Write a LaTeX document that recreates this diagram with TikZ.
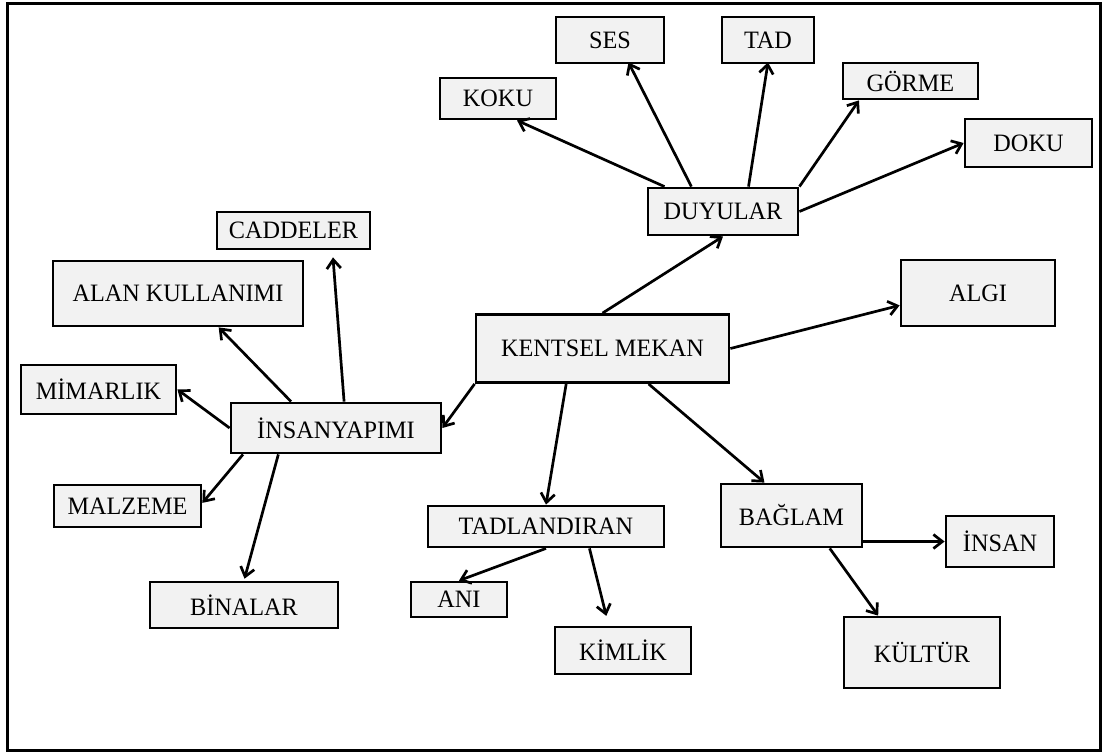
\documentclass[tikz,border=0pt]{standalone}
\usepackage{fontspec}
\setmainfont[FakeStretch=0.97]{Liberation Serif}
\usetikzlibrary{arrows.meta,calc}
\definecolor{boxfill}{HTML}{F2F2F2}
\begin{document}
\begin{tikzpicture}[x=1pt,y=-1pt,
  box/.style={draw=black, line width=2.8pt, fill=boxfill, inner sep=0pt,
              font=\fontsize{25}{29}\selectfont},
  arr/.style={line width=2.7pt, -{Straight Barb[length=9pt,width=14pt]}}]
\useasboundingbox (0,0) rectangle (1103,753);
\draw[line width=3pt] (7,3) rectangle (1100,750);

% senses cluster
\node[box, minimum width=116pt, minimum height=41pt] (koku)  at (498,98.5)   {KOKU};
\node[box, minimum width=108pt, minimum height=46pt] (ses)   at (610,40)     {SES};
\node[box, minimum width=92pt,  minimum height=46pt] (tad)   at (768,40)     {TAD};
\node[box, minimum width=135pt, minimum height=36pt] (gorme) at (910.5,81)   {GÖRME};
\node[box, minimum width=127pt, minimum height=48pt] (doku)  at (1028.5,143) {DOKU};
\node[box, minimum width=150pt, minimum height=47pt] (duy)   at (723,211.5)  {DUYULAR};

% centre and right
\node[box, minimum width=253pt, minimum height=68pt] (kent)  at (602.5,348.5) {KENTSEL MEKAN};
\node[box, minimum width=154pt, minimum height=66pt] (algi)  at (978,293)     {ALGI};

% man-made cluster
\node[box, minimum width=153pt, minimum height=37pt] (cad)   at (293.5,230.5) {CADDELER};
\node[box, minimum width=250pt, minimum height=65pt] (alan)  at (178,293.5)   {ALAN KULLANIMI};
\node[box, minimum width=155pt, minimum height=49pt] (mim)   at (98.5,389.5)  {MİMARLIK};
\node[box, minimum width=210pt, minimum height=50pt] (insy)  at (336,428)     {İNSANYAPIMI};
\node[box, minimum width=147pt, minimum height=42pt] (malz)  at (127.5,506)   {MALZEME};
\node[box, minimum width=188pt, minimum height=46pt] (bin)   at (244,605)     {BİNALAR};

% lower clusters
\node[box, minimum width=236pt, minimum height=41pt] (tadl)  at (546,526.5)   {TADLANDIRAN};
\node[box, minimum width=96pt,  minimum height=35pt] (ani)   at (459,599.5)   {ANI};
\node[box, minimum width=136pt, minimum height=47pt] (kim)   at (623,650.5)   {KİMLİK};
\node[box, minimum width=141pt, minimum height=63pt] (bag)   at (791.5,515.5) {BAĞLAM};
\node[box, minimum width=108pt, minimum height=51pt] (insan) at (1000,541.5)  {İNSAN};
\node[box, minimum width=156pt, minimum height=71pt] (kul)   at (922,652.5)   {KÜLTÜR};

% DUYULAR branches
\draw[arr] ($(duy.north west)!0.117!(duy.north east)$) -- ($(koku.south west)!0.66!(koku.south east)$);
\draw[arr] ($(duy.north west)!0.293!(duy.north east)$) -- ([yshift=2pt]$(ses.south west)!0.667!(ses.south east)$);
\draw[arr] ($(duy.north west)!0.667!(duy.north east)$) -- ([yshift=2pt]tad.south);
\draw[arr] (duy.north east) -- ($(gorme.south west)!0.126!(gorme.south east)$);
\draw[arr] (duy.east) -- (doku.west);

% KENTSEL MEKAN branches
\draw[arr] (kent.north) -- (duy.south);
\draw[arr] (kent.east) -- ($(algi.north west)!0.68!(algi.south west)$);
\draw[arr] (kent.south west) -- (insy.east);
\draw[arr] ($(kent.south west)!0.358!(kent.south east)$) -- (tadl.north);
\draw[arr] ($(kent.south west)!0.68!(kent.south east)$) -- ($(bag.north west)!0.312!(bag.north east)$);

% İNSANYAPIMI branches
\draw[arr, shorten >=7pt] ($(insy.north west)!0.538!(insy.north east)$) -- ($(cad.south west)!0.75!(cad.south east)$);
\draw[arr] ($(insy.north west)!0.289!(insy.north east)$) -- ($(alan.south west)!0.661!(alan.south east)$);
\draw[arr] (insy.west) -- (mim.east);
\draw[arr] ($(insy.south west)!0.063!(insy.south east)$) -- ($(malz.north east)!0.43!(malz.south east)$);
\draw[arr, shorten >=2pt] ($(insy.south west)!0.229!(insy.south east)$) -- (bin.north);

% TADLANDIRAN branches
\draw[arr] (tadl.south) -- (ani.north);
\draw[arr, shorten >=10pt] ($(tadl.south west)!0.682!(tadl.south east)$) -- ($(kim.north west)!0.397!(kim.north east)$);

% BAĞLAM branches
\draw[arr] (bag.east |- insan.west) -- (insan.west);
\draw[arr] ($(bag.south west)!0.766!(bag.south east)$) -- ($(kul.north west)!0.224!(kul.north east)$);
\end{tikzpicture}
\end{document}
